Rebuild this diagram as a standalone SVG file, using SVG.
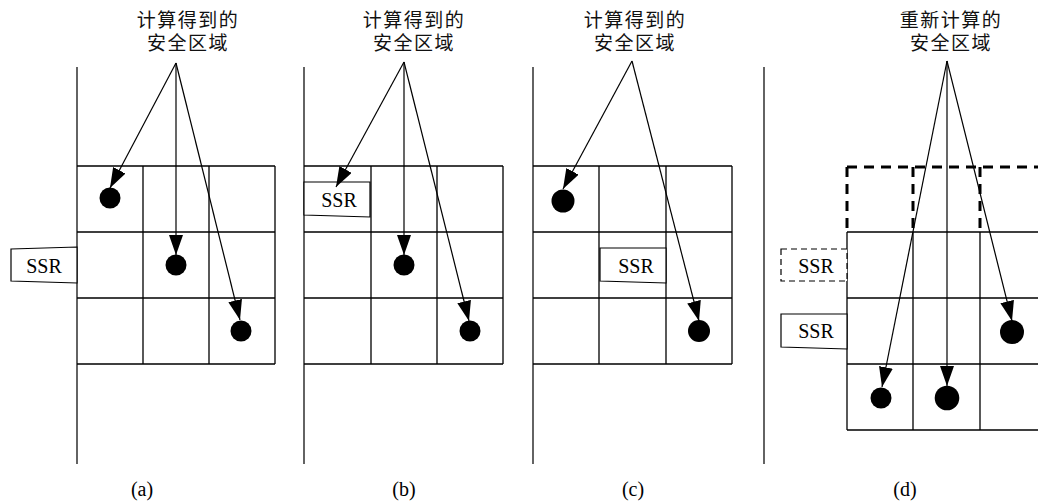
<svg xmlns="http://www.w3.org/2000/svg" width="1038" height="501" viewBox="0 0 1038 501">
  <style>
    .grid { stroke: #000; stroke-width: 1.3; fill: none; }
    .axis { stroke: #222; stroke-width: 1.4; fill: none; }
    .dash { stroke: #000; stroke-width: 3; fill: none; stroke-dasharray: 10 7; }
    .box { stroke: #000; stroke-width: 1.2; fill: #fff; }
    .dbox { stroke: #000; stroke-width: 1.2; fill: #fff; stroke-dasharray: 6 4; }
    .arrow { stroke: #000; stroke-width: 1.2; fill: none; marker-end: url(#head); }
    .dot { fill: #000; }
    .cjk { font-family: "Noto Sans CJK SC", "Noto Sans", sans-serif; font-size: 19px; letter-spacing: 1.5px; text-anchor: middle; fill: #111; }
    .lbl { font-family: "Liberation Serif", "Times New Roman", serif; font-size: 20px; text-anchor: middle; fill: #000; }
  </style>
  <defs>
    <marker id="head" markerUnits="userSpaceOnUse" markerWidth="22" markerHeight="16" refX="20" refY="7" orient="auto">
      <path d="M0,0 L20,7 L0,14 Z" fill="#000"/>
    </marker>
  </defs>
  <rect width="1038" height="501" fill="#fff"/>

  <!-- panel (a) -->
  <g id="panel-a">
    <line class="axis" x1="77" y1="67" x2="77" y2="464"/>
    <path class="grid" d="M77,166 H275 M77,232 H275 M77,298 H275 M77,364 H275 M143,166 V364 M209,166 V364 M275,166 V364"/>
    <text class="cjk"><tspan x="188" y="27">计算得到的</tspan><tspan x="188" y="50">安全区域</tspan></text>
    <circle class="dot" cx="110" cy="198" r="10.5"/>
    <circle class="dot" cx="176" cy="265" r="10.5"/>
    <circle class="dot" cx="241" cy="331" r="10.5"/>
    <g id="ssr-a">
      <polygon class="box" points="11,249 77,247 77,283 11,281"/>
      <text class="lbl" x="44" y="273">SSR</text>
    </g>
    <text class="lbl" x="142" y="496">(a)</text>
  </g>

  <!-- panel (b) -->
  <g id="panel-b">
    <line class="axis" x1="304" y1="67" x2="304" y2="464"/>
    <path class="grid" d="M304,166 H503 M304,232 H503 M304,298 H503 M304,364 H503 M371,166 V364 M437,166 V364 M503,166 V364"/>
    <text class="cjk"><tspan x="414" y="27">计算得到的</tspan><tspan x="414" y="50">安全区域</tspan></text>
    <circle class="dot" cx="404" cy="265" r="10.5"/>
    <circle class="dot" cx="470" cy="331" r="10.5"/>
    <g id="ssr-b">
      <polygon class="box" points="304,182 370,182 370,217 304,215"/>
      <text class="lbl" x="339" y="207">SSR</text>
    </g>
    <text class="lbl" x="404" y="496">(b)</text>
  </g>

  <!-- panel (c) -->
  <g id="panel-c">
    <line class="axis" x1="533" y1="67" x2="533" y2="464"/>
    <path class="grid" d="M533,166 H732 M533,232 H732 M533,298 H732 M533,364 H732 M599,166 V364 M666,166 V364 M732,166 V364"/>
    <text class="cjk"><tspan x="635" y="27">计算得到的</tspan><tspan x="635" y="50">安全区域</tspan></text>
    <circle class="dot" cx="563" cy="201" r="11.5"/>
    <circle class="dot" cx="699" cy="331" r="11"/>
    <g id="ssr-c">
      <polygon class="box" points="600,248 666,248 666,283 600,281"/>
      <text class="lbl" x="636" y="273">SSR</text>
    </g>
    <text class="lbl" x="633" y="496">(c)</text>
  </g>

  <!-- panel (d) -->
  <g id="panel-d">
    <line class="axis" x1="764" y1="67" x2="764" y2="464"/>
    <path class="grid" d="M847,232 H1046 M847,298 H1046 M847,364 H1046 M847,430 H1046 M847,232 V430 M913,232 V430 M980,232 V430"/>
    <path class="dash" d="M847,167 H1046 M847,167 V232 M913,167 V232 M980,167 V232"/>
    <text class="cjk"><tspan x="951" y="27">重新计算的</tspan><tspan x="951" y="50">安全区域</tspan></text>
    <circle class="dot" cx="881" cy="398" r="10.5"/>
    <circle class="dot" cx="947" cy="398" r="12.3"/>
    <circle class="dot" cx="1012" cy="332" r="12"/>
    <g id="ssr-d-old">
      <rect class="dbox" x="781" y="249" width="66" height="32"/>
      <text class="lbl" x="816" y="273">SSR</text>
    </g>
    <g id="ssr-d-new">
      <polygon class="box" points="781,314 847,314 847,349 781,347"/>
      <text class="lbl" x="816" y="338">SSR</text>
    </g>
    <text class="lbl" x="905" y="496">(d)</text>
  </g>

  <!-- connectors -->
  <g id="connectors">
    <line class="arrow" x1="176" y1="63" x2="110" y2="188"/>
    <line class="arrow" x1="176" y1="63" x2="176" y2="255"/>
    <line class="arrow" x1="176" y1="63" x2="240" y2="320"/>
    <line class="arrow" x1="404" y1="62" x2="336" y2="187"/>
    <line class="arrow" x1="404" y1="62" x2="404" y2="255"/>
    <line class="arrow" x1="404" y1="62" x2="469" y2="321"/>
    <line class="arrow" x1="632" y1="61" x2="563" y2="189"/>
    <line class="arrow" x1="632" y1="61" x2="699" y2="321"/>
    <line class="arrow" x1="947" y1="61" x2="882" y2="387"/>
    <line class="arrow" x1="947" y1="61" x2="947" y2="386"/>
    <line class="arrow" x1="947" y1="61" x2="1012" y2="321"/>
  </g>
</svg>
